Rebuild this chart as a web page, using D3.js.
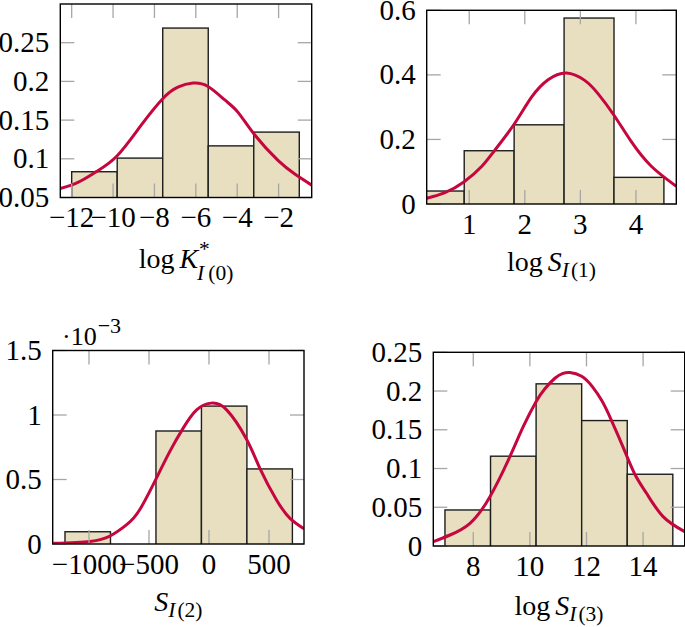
<!DOCTYPE html>
<html><head><meta charset="utf-8">
<script src="https://cdn.jsdelivr.net/npm/d3@7"></script>
<style>
html,body{margin:0;padding:0;background:#fff;}
svg{display:block;}
text{font-family:"Liberation Serif","Times New Roman",serif;fill:#000;}
</style></head><body>
<svg id="chart" width="685" height="627"></svg>
<script>
// ---------- Panel 1 : log K*_I(0) ----------
const P1_EDGES = [-12.0, -9.8, -7.6, -5.4, -3.2, -1.0];
const P1_DENS  = [0.0833, 0.1009, 0.2689, 0.1167, 0.1345];
const P1_FIT_X = [-12.55, -11.70, -10.81, -9.80, -8.64, -7.59, -6.87, -6.14, -5.41, -4.60, -3.96, -3.16, -2.03, -1.20, -0.40];
const P1_FIT_Y = [0.0615, 0.0695, 0.0834, 0.1040, 0.1435, 0.1780, 0.1926, 0.1978, 0.1934, 0.1760, 0.1600, 0.1310, 0.0980, 0.0800, 0.0660];
const P1_XTICKS = [-12, -10, -8, -6, -4, -2];
const P1_YTICKS = [0.05, 0.1, 0.15, 0.2, 0.25];

// ---------- Panel 2 : log S_I(1) ----------
const P2_EDGES = [0.012, 0.910, 1.808, 2.707, 3.605, 4.503];
const P2_DENS  = [0.0402, 0.165, 0.2453, 0.576, 0.0825];
const P2_FIT_X = [0.235, 0.563, 0.910, 1.223, 1.462, 1.808, 2.121, 2.419, 2.750, 3.078, 3.317, 3.605, 3.917, 4.276, 4.726];
const P2_FIT_Y = [0.0176, 0.035, 0.069, 0.116, 0.167, 0.247, 0.331, 0.385, 0.406, 0.383, 0.342, 0.275, 0.193, 0.117, 0.055];
const P2_XTICKS = [1, 2, 3, 4];
const P2_YTICKS = [0, 0.2, 0.4, 0.6];

// ---------- Panel 3 : S_I(2)  (densities in units of 10^-3) ----------
const P3_EDGES = [-1200, -821, -442, -63, 316, 695];
const P3_DENS_E3 = [0.095, 0, 0.876, 1.069, 0.582];
const P3_FIT_X = [-1297, -992, -825, -686, -575, -436, -325, -214, -103, 17, 147, 314, 425, 564, 675, 792];
const P3_FIT_Y_E3 = [0.005, 0.02, 0.062, 0.15, 0.27, 0.515, 0.72, 0.90, 1.04, 1.092, 1.04, 0.81, 0.585, 0.34, 0.199, 0.118];
const P3_XTICKS = [-1000, -500, 0, 500];
const P3_YTICKS_E3 = [0, 0.5, 1, 1.5];

// ---------- Panel 4 : log S_I(3) ----------
const P4_EDGES = [7.0, 8.61, 10.22, 11.83, 13.44, 15.05];
const P4_DENS  = [0.0465, 0.1159, 0.2093, 0.1619, 0.0926];
const P4_FIT_X = [6.588, 7.178, 7.884, 8.589, 9.295, 9.765, 10.213, 10.531, 10.884, 11.15, 11.413, 11.83, 12.20, 12.55, 12.885, 13.30, 13.708, 14.121, 14.707, 15.47];
const P4_FIT_Y = [0.0056, 0.0142, 0.0293, 0.0637, 0.1154, 0.154, 0.186, 0.203, 0.2165, 0.2225, 0.224, 0.219, 0.206, 0.187, 0.1619, 0.127, 0.0926, 0.068, 0.0379, 0.0185];
const P4_XTICKS = [8, 10, 12, 14];
const P4_YTICKS = [0, 0.05, 0.1, 0.15, 0.2, 0.25];

// ---------- styling ----------
const BAR_FILL = "#e7dfbf";
const BAR_STROKE = "#1e1e1e";
const CURVE_COLOR = "#c6063e";
const TICK_COLOR = "#a6a6a6";
const TICK_FONT = 29;
const TICK_LEN = 14;
const LBL = 28, SUB = 21.5;

const svg = d3.select("#chart");
const fmtNum = v => String(v).replace("-", "\u2212");

function drawPanel(id, frame, xDom, yDom, edges, dens, fitX, fitY, xTicks, yTicks) {
  const x = d3.scaleLinear().domain(xDom).range([frame.x0, frame.x1]);
  const y = d3.scaleLinear().domain(yDom).range([frame.y1, frame.y0]);
  const g = svg.append("g");
  g.append("clipPath").attr("id", "clip" + id)
    .append("rect").attr("x", frame.x0).attr("y", frame.y0)
    .attr("width", frame.x1 - frame.x0).attr("height", frame.y1 - frame.y0);
  const inner = g.append("g").attr("clip-path", `url(#clip${id})`);

  const bins = dens.map((d, i) => ({ a: edges[i], b: edges[i + 1], v: d })).filter(b => b.v > 0);
  inner.selectAll("rect.bar").data(bins).enter().append("rect")
    .attr("x", d => x(d.a)).attr("width", d => x(d.b) - x(d.a))
    .attr("y", d => y(d.v)).attr("height", d => y(yDom[0]) - y(d.v) + 10)
    .attr("fill", BAR_FILL).attr("stroke", BAR_STROKE).attr("stroke-width", 1.4);

  const tk = g.append("g").attr("stroke", TICK_COLOR).attr("stroke-width", 1.3);
  xTicks.forEach(t => {
    const px = x(t);
    tk.append("line").attr("x1", px).attr("x2", px).attr("y1", frame.y1).attr("y2", frame.y1 - TICK_LEN);
    tk.append("line").attr("x1", px).attr("x2", px).attr("y1", frame.y0).attr("y2", frame.y0 + TICK_LEN);
  });
  yTicks.forEach(t => {
    const py = y(t);
    tk.append("line").attr("x1", frame.x0).attr("x2", frame.x0 + TICK_LEN).attr("y1", py).attr("y2", py);
    tk.append("line").attr("x1", frame.x1).attr("x2", frame.x1 - TICK_LEN).attr("y1", py).attr("y2", py);
  });

  const pts = fitX.map((v, i) => [v, fitY[i]]);
  const line = d3.line().x(d => x(d[0])).y(d => y(d[1])).curve(d3.curveNatural);
  inner.append("path").attr("d", line(pts)).attr("fill", "none")
    .attr("stroke", CURVE_COLOR).attr("stroke-width", 3);

  g.append("rect").attr("x", frame.x0).attr("y", frame.y0)
    .attr("width", frame.x1 - frame.x0).attr("height", frame.y1 - frame.y0)
    .attr("fill", "none").attr("stroke", "#000").attr("stroke-width", 1.4);

  xTicks.forEach(t => {
    g.append("text").attr("x", x(t)).attr("y", frame.y1 + 29.5)
      .attr("text-anchor", "middle").style("font-size", TICK_FONT + "px").text(fmtNum(t));
  });
  return { x, y, g };
}

function yLabels(p, frame, ticks, fmt) {
  ticks.forEach(t => {
    p.g.append("text").attr("x", frame.x0 - 11).attr("y", Math.max(p.y(t) + 9.5, 20))
      .attr("text-anchor", "end").style("font-size", TICK_FONT + "px").text(fmt(t));
  });
}

function mathLabel(cx, baseline, runs) {
  const t = svg.append("text").attr("x", 0).attr("y", baseline);
  let prev = null;
  runs.forEach(r => {
    const ts = t.append("tspan").text(r.t).style("font-size", r.size + "px");
    if (r.italic) ts.style("font-style", "italic");
    let dx = r.dx || 0;
    if (r.back && prev) dx -= prev.node().getComputedTextLength();
    if (dx) ts.attr("dx", dx);
    if (r.dy) ts.attr("dy", r.dy);
    prev = ts;
  });
  const bb = t.node().getBBox();
  t.attr("transform", `translate(${cx - (bb.x + bb.width / 2)},0)`);
}

// ---------- build panels ----------
const F1 = { x0: 60.3, x1: 311.7, y0: 4, y1: 197.5 };
const p1 = drawPanel(1, F1, [-12.55, -0.40], [0.05, 0.30], P1_EDGES, P1_DENS, P1_FIT_X, P1_FIT_Y, P1_XTICKS, P1_YTICKS);
yLabels(p1, F1, P1_YTICKS, v => String(v));

const F2 = { x0: 426.7, x1: 676.3, y0: 10.3, y1: 204 };
const p2 = drawPanel(2, F2, [0.235, 4.726], [0, 0.6], P2_EDGES, P2_DENS, P2_FIT_X, P2_FIT_Y, P2_XTICKS, P2_YTICKS);
yLabels(p2, F2, P2_YTICKS, v => String(v));

const F3 = { x0: 52.7, x1: 304, y0: 350.5, y1: 544 };
const p3 = drawPanel(3, F3, [-1302.5, 791.7], [0, 1.5], P3_EDGES, P3_DENS_E3, P3_FIT_X, P3_FIT_Y_E3, P3_XTICKS, P3_YTICKS_E3);
yLabels(p3, F3, P3_YTICKS_E3, v => String(v));

const F4 = { x0: 433.3, x1: 684.7, y0: 352.3, y1: 546 };
const p4 = drawPanel(4, F4, [6.588, 15.47], [0, 0.25], P4_EDGES, P4_DENS, P4_FIT_X, P4_FIT_Y, P4_XTICKS, P4_YTICKS);
yLabels(p4, F4, P4_YTICKS, v => String(v));

// scale label ·10^-3
const sc = svg.append("text").attr("x", 62).attr("y", 345);
sc.append("tspan").text("\u00B710").style("font-size", "26px");
sc.append("tspan").text("\u22123").style("font-size", "22px").attr("dx", 1).attr("dy", -12);

// axis labels
mathLabel((F1.x0 + F1.x1) / 2, 268, [
  { t: "log", size: LBL },
  { t: "K", size: LBL, italic: true, dx: 5 },
  { t: "*", size: SUB, dy: -12, dx: 1 },
  { t: "I", size: SUB, italic: true, dy: 24, back: true, dx: -2 },
  { t: "(0)", size: SUB, dx: 4 }
]);
mathLabel((F2.x0 + F2.x1) / 2, 271, [
  { t: "log", size: LBL },
  { t: "S", size: LBL, italic: true, dx: 5 },
  { t: "I", size: SUB, italic: true, dy: 6 },
  { t: "(1)", size: SUB, dx: 2 }
]);
mathLabel((F3.x0 + F3.x1) / 2, 611, [
  { t: "S", size: LBL, italic: true },
  { t: "I", size: SUB, italic: true, dy: 6 },
  { t: "(2)", size: SUB, dx: 2 }
]);
mathLabel((F4.x0 + F4.x1) / 2, 615, [
  { t: "log", size: LBL },
  { t: "S", size: LBL, italic: true, dx: 5 },
  { t: "I", size: SUB, italic: true, dy: 6 },
  { t: "(3)", size: SUB, dx: 2 }
]);
</script>
</body></html>
